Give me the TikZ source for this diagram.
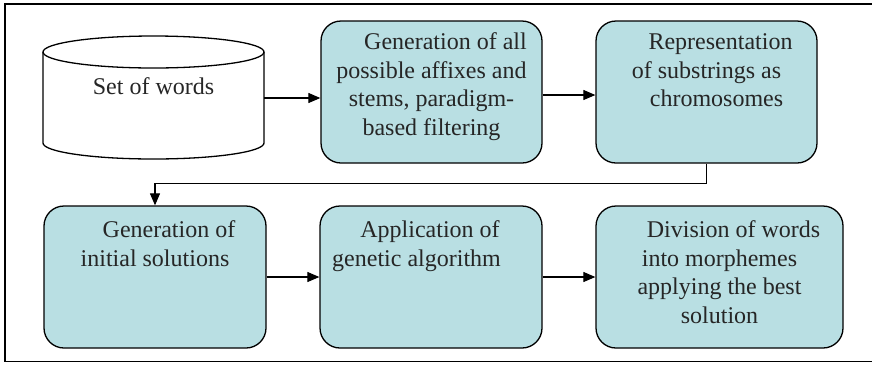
\documentclass[tikz,border=0pt]{standalone}
\usepackage{fontspec}
\setmainfont{LiberationSerif}[Extension=.ttf, UprightFont=*-Regular, BoldFont=*-Bold]
\usetikzlibrary{arrows.meta}

\definecolor{boxfill}{RGB}{185,223,227}
\definecolor{inktext}{RGB}{38,38,38}

\tikzset{
  stage/.style={draw=black, line width=1.3pt, fill=boxfill, rounded corners=20pt,
    minimum width=#1, minimum height=142pt, inner sep=0pt},
  stage/.default=222pt,
  stagetext/.style={anchor=north, inner sep=0pt, align=center, text=inktext,
    font=\rmfamily\fontsize{24}{28.6}\selectfont},
  flow/.style={line width=1.1pt, -{Triangle[length=12pt,width=10pt]}},
}

\begin{document}
\begin{tikzpicture}[x=1pt,y=-1pt]
\useasboundingbox (0,0) rectangle (872,365);

% outer frame (open on the right)
\draw[line width=1.4pt] (880,4) -- (5,4) -- (5,361.5) -- (880,361.5);

% data store: cylinder outline
\node (words) at (153.5,97.5) [minimum width=221pt, minimum height=91pt, inner sep=0pt] {};
\draw[line width=1.3pt, fill=white]
  (43,52) -- (43,143) arc[start angle=180, end angle=360, x radius=110.5, y radius=-16]
  -- (264,52) arc[start angle=0, end angle=180, x radius=110.5, y radius=-16] -- cycle;
\draw[line width=1.3pt] (43,52) arc[start angle=180, end angle=360, x radius=110.5, y radius=-16];
\node[stagetext, anchor=base] (wordstxt) at (153.5,94) {Set of words};

% processing stages
\node[stage=221pt] (gen)  at (431.5,92) {};
\node[stage=221pt] (rep)  at (706.5,92) {};
\node[stage=222pt] (init) at (155,277) {};
\node[stage=222pt] (ga)   at (431,277) {};
\node[stage=247pt] (div)  at (719.5,277) {};

\node[stagetext] (gentxt) at ([yshift=-12pt]gen.north)
  {\hspace*{28pt}Generation of all\\possible affixes and\\stems, paradigm-\\based filtering};
\node[stagetext] (reptxt) at ([yshift=-13pt]rep.north)
  {\hspace*{28pt}Representation\\of substrings as\\\hspace*{20pt}chromosomes};
\node[stagetext] (inittxt) at ([yshift=-15pt]init.north)
  {\hspace*{28pt}Generation of\\initial solutions};
\node[stagetext] (gatxt) at ([xshift=-14.5pt,yshift=-15pt]ga.north)
  {\hspace*{27pt}Application of\\genetic algorithm};
\node[stagetext] (divtxt) at ([yshift=-15pt]div.north)
  {\hspace*{28pt}Division of words\\into morphemes\\applying the best\\solution};

% connectors
\draw[flow] ([yshift=-0.5pt]words.east) -- ([yshift=-0.5pt]words.east -| gen.west);
\draw[flow] ([yshift=-3pt]gen.east) -- ([yshift=-3pt]rep.west);
\coordinate (turnA) at ([yshift=-20pt]rep.south);
\coordinate (turnB) at (turnA -| init.north);
\draw[flow] (rep.south) -- (turnA) -- (turnB) -- (init.north);
\draw[flow] (init.east) -- (ga.west);
\draw[flow] (ga.east) -- (div.west);
\end{tikzpicture}
\end{document}
